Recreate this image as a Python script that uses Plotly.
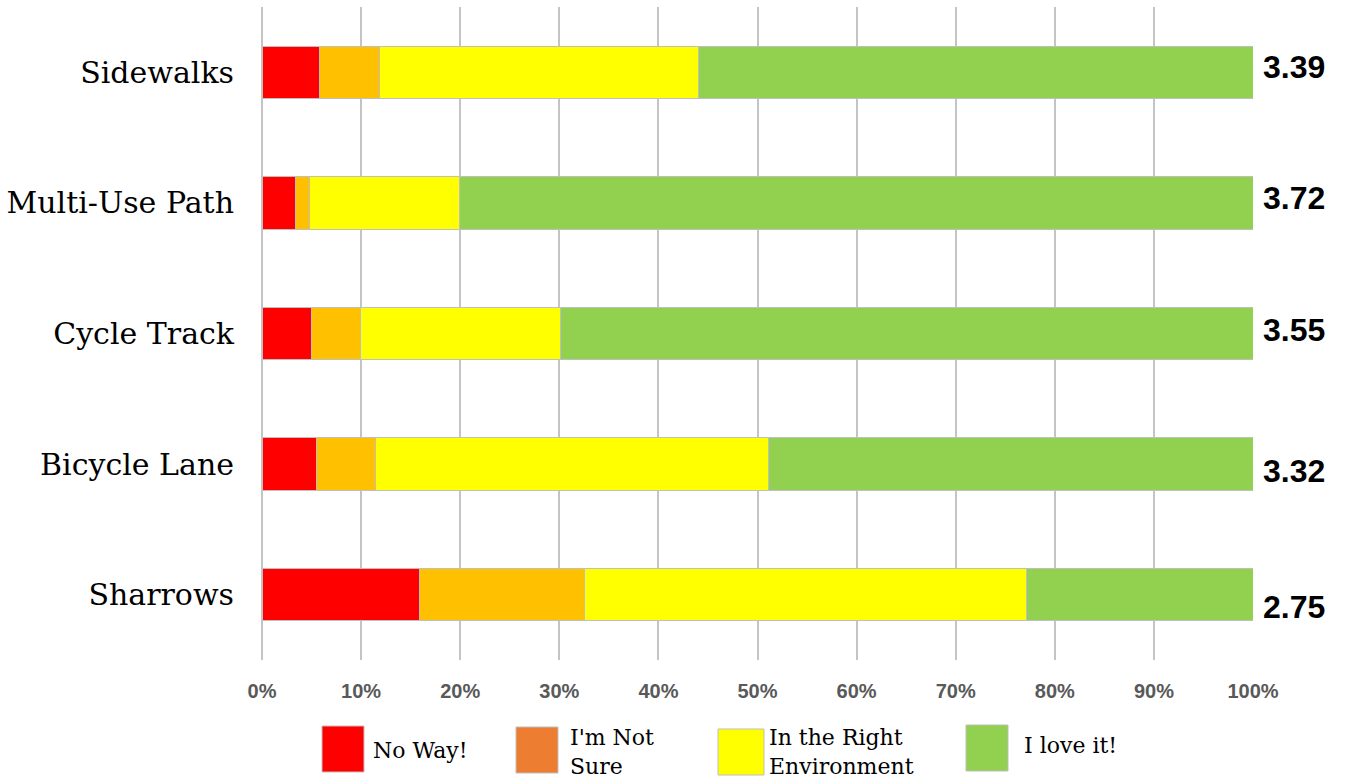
import plotly.graph_objects as go

categories = ["Sidewalks", "Multi-Use Path", "Cycle Track", "Bicycle Lane", "Sharrows"]
series_names = ["No Way!", "I'm Not Sure", "In the Right Environment", "I love it!"]
no_way = [5.8, 3.4, 5.0, 5.5, 15.9]
not_sure = [6.1, 1.4, 4.9, 6.0, 16.6]
right_env = [32.1, 15.1, 20.2, 39.6, 44.6]
love_it = [56.0, 80.1, 69.9, 48.9, 22.9]
mean_scores = ["3.39", "3.72", "3.55", "3.32", "2.75"]
x_ticks = list(range(0, 101, 10))
x_tick_labels = [f"{t}%" for t in x_ticks]

bar_colors = ["#FF0000", "#FFC000", "#FFFF00", "#92D050"]
legend_colors = ["#FF0000", "#ED7D31", "#FFFF00", "#92D050"]
legend_labels = ["No Way!", "I'm Not<br>Sure", "In the Right<br>Environment", "I love it!"]
score_yshift = [5, 5, 4, -7, -12]

W, H = 1346, 782
ML, MR, MT, MB = 262, 93, 7, 122
PW, PH = W - ML - MR, H - MT - MB

def px(xp):
    return (xp - ML) / PW

def py(yp):
    return (H - MB - yp) / PH

fig = go.Figure()
for name, vals, col in zip(series_names, [no_way, not_sure, right_env, love_it], bar_colors):
    fig.add_trace(go.Bar(
        y=categories, x=vals, name=name, orientation="h",
        marker=dict(color=col, line=dict(color="#BFBFBF", width=1)),
        width=0.4, showlegend=False,
    ))

for cat, s, ys in zip(categories, mean_scores, score_yshift):
    fig.add_annotation(x=100, y=cat, xref="x", yref="y", text=s, showarrow=False,
                       xanchor="left", xshift=8, yshift=ys,
                       font=dict(family="Liberation Sans, Arial", size=32, color="#000000", weight="bold"))

# custom legend with large swatches
legend_boxes = [(322, 364, 726, 772), (516, 558, 727, 773), (718, 764, 729, 775), (966, 1008, 725, 771)]
legend_text_x = [371, 568, 767, 1022]
legend_text_y = [750, 752, 752, 745]
for (x0, x1, y0, y1), col, lab, tx, ty in zip(legend_boxes, legend_colors, legend_labels, legend_text_x, legend_text_y):
    fig.add_shape(type="rect", xref="paper", yref="paper",
                  x0=px(x0), x1=px(x1), y0=py(y1), y1=py(y0),
                  fillcolor=col, line=dict(color="#BFBFBF", width=1))
    fig.add_annotation(xref="paper", yref="paper", x=px(tx), y=py(ty), text=lab,
                       showarrow=False, xanchor="left", yanchor="middle", align="left",
                       font=dict(family="DejaVu Serif", size=22, color="#000000"))

fig.update_layout(
    width=W, height=H, barmode="stack",
    margin=dict(l=ML, r=MR, t=MT, b=MB),
    plot_bgcolor="white", paper_bgcolor="white",
    bargap=0.6,
    xaxis=dict(range=[0, 100], tickvals=x_ticks, ticktext=x_tick_labels,
               showgrid=True, gridcolor="#C4C4C4", gridwidth=2,
               zeroline=True, zerolinecolor="#C4C4C4", zerolinewidth=2,
               showline=False, ticks="", ticklabelstandoff=17,
               tickfont=dict(family="Liberation Sans, Arial", size=20, color="#595959", weight="bold")),
    yaxis=dict(categoryorder="array", categoryarray=categories, autorange="reversed",
               showgrid=False, zeroline=False, showline=False, ticks="", ticklabelstandoff=27,
               tickfont=dict(family="DejaVu Serif", size=30, color="#000000")),
)

fig.write_html("out.html")
